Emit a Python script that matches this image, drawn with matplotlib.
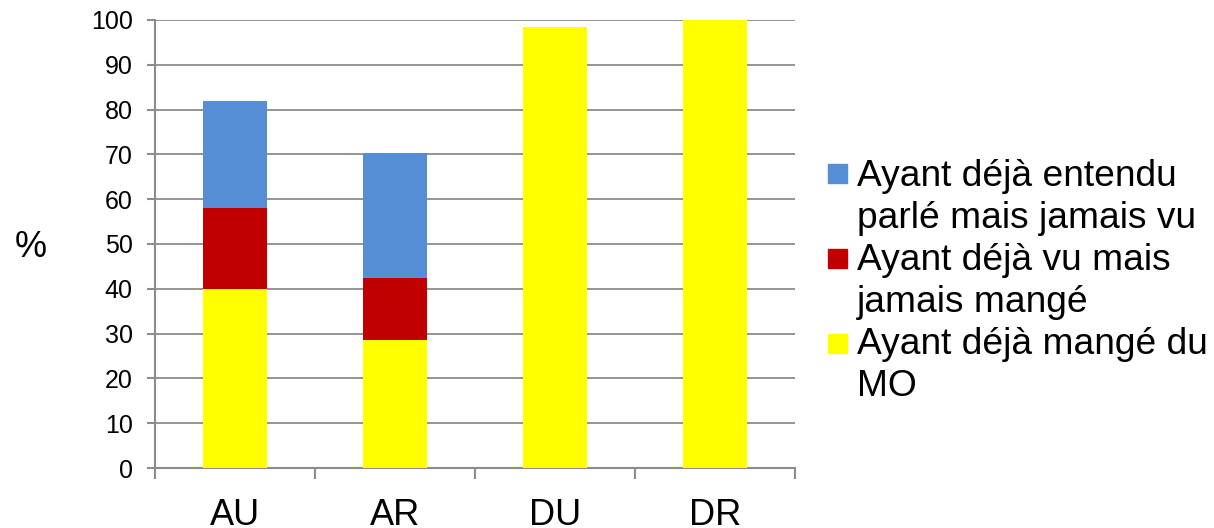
import numpy as np
import matplotlib
matplotlib.use("Agg")
import matplotlib.pyplot as plt
from matplotlib.patches import Rectangle

plt.rcParams['font.family'] = ['Liberation Sans', 'DejaVu Sans']

# Share of respondents per group (%)
groups = ['AU', 'AR', 'DU', 'DR']
mange = [40.0, 28.6, 98.4, 100.0]
vu_pas_mange = [18.0, 13.7, 0.0, 0.0]
entendu_pas_vu = [24.0, 28.0, 0.0, 0.0]

labels = ['Ayant déjà entendu\nparlé mais jamais vu',
          'Ayant déjà vu mais\njamais mangé',
          'Ayant déjà mangé du\nMO']
colors = ['#558ED5', '#C00000', '#FFFF00']
grey = '#8C8C8C'

W, H = 1214, 528
fig = plt.figure(figsize=(W / 100, H / 100), dpi=100)
ax = fig.add_axes([155 / W, 1 - 468 / H, 640 / W, 448 / H])

x = np.arange(len(groups))
w = 0.4
ax.bar(x, mange, w, color=colors[2], zorder=3)
ax.bar(x, vu_pas_mange, w, bottom=mange, color=colors[1], zorder=3)
bottom2 = np.array(mange) + np.array(vu_pas_mange)
ax.bar(x, entendu_pas_vu, w, bottom=bottom2, color=colors[0], zorder=3)

ax.set_xlim(-0.5, len(groups) - 0.5)
ax.set_ylim(0, 100)
ax.set_yticks(np.arange(0, 101, 10))
ax.yaxis.grid(True, color=grey, linewidth=1.3, zorder=0)

# category labels on minor ticks, tick marks between categories
ax.set_xticks(np.arange(-0.5, len(groups), 1.0))
ax.set_xticklabels([])
ax.set_xticks(x, minor=True)
ax.set_xticklabels(groups, minor=True, fontsize=26)
ax.tick_params(axis='x', which='major', length=8, width=1.5, color=grey, direction='out')
ax.tick_params(axis='x', which='minor', length=0, pad=21.5)
ax.tick_params(axis='y', length=6, width=1.5, color=grey, labelsize=18, pad=10)

for side in ['top', 'right']:
    ax.spines[side].set_visible(False)
for side in ['left', 'bottom']:
    ax.spines[side].set_color(grey)
    ax.spines[side].set_linewidth(1.5)

fig.text(31 / W, 1 - 257 / H, '%', fontsize=26, ha='center', va='baseline')

# legend: square swatches aligned with the first line of each entry
line_step = 42.1
for i, (lab, col) in enumerate(zip(labels, colors)):
    top = 164 + 85 * i
    fig.patches.append(Rectangle((828 / W, 1 - (top + 19) / H), 19 / W, 19 / H,
                                 transform=fig.transFigure, color=col))
    for j, line in enumerate(lab.split('\n')):
        base = 186 + line_step * (2 * i + j)
        fig.text(857 / W, 1 - base / H, line, fontsize=26.7, va='baseline', ha='left')

fig.savefig('out.png', dpi=100)
